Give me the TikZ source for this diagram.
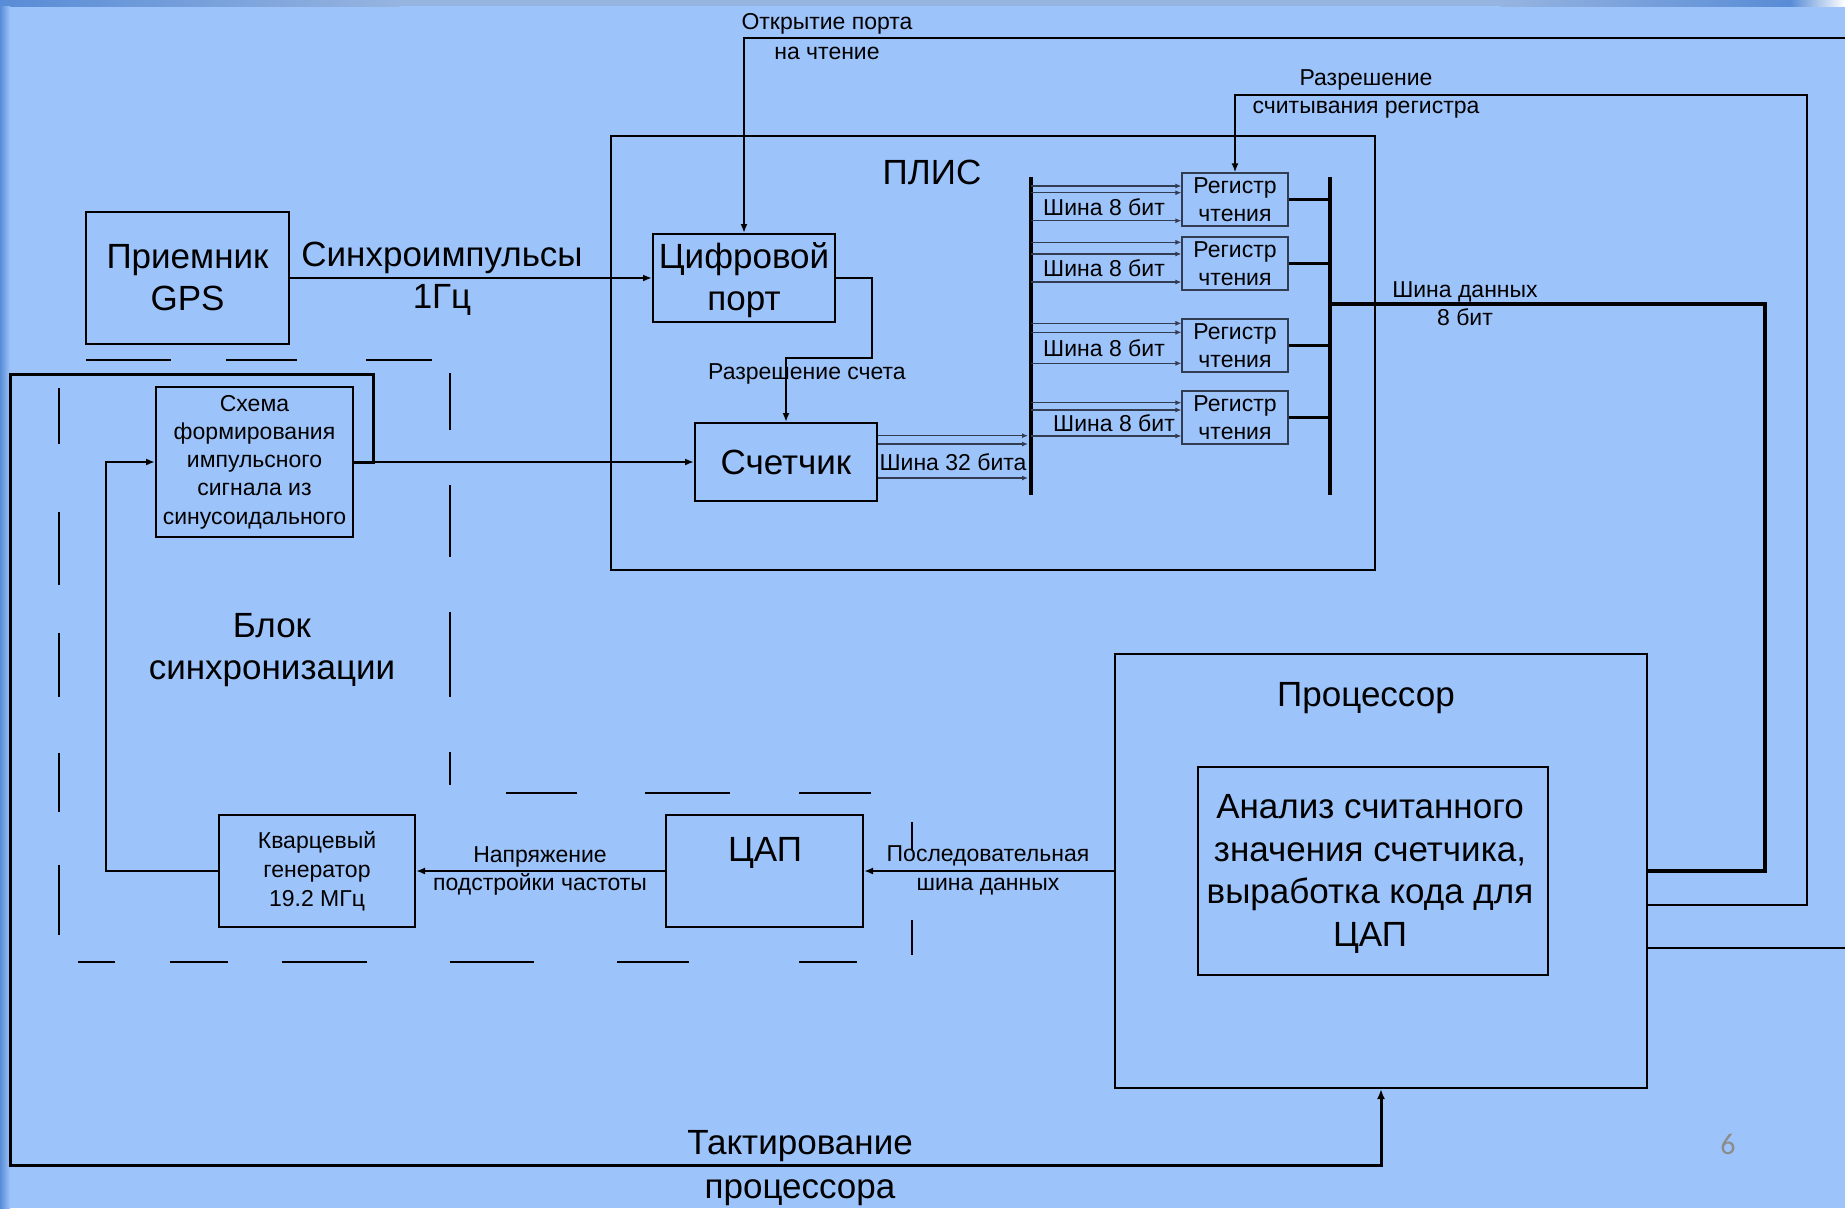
\documentclass[tikz,border=0pt]{standalone}
\usepackage{fontspec}
\setmainfont{Liberation Sans}
\newfontfamily\pagefont{Carlito}
\usetikzlibrary{arrows.meta,calc}
\definecolor{bg}{RGB}{157,195,251}
\definecolor{edgeblue}{RGB}{88,140,214}
\definecolor{topgray}{RGB}{150,180,224}
\definecolor{regline}{RGB}{50,60,80}
\definecolor{pagenum}{RGB}{140,140,140}
\begin{document}
\begin{tikzpicture}[x=1pt,y=-1pt,
  big/.style={font=\fontsize{35}{42}\selectfont},
  small/.style={font=\fontsize{23}{29}\selectfont},
  box/.style={draw,line width=2pt,inner sep=0pt,align=center},
  regbox/.style={draw=regline,line width=1.2pt,inner sep=0pt,align=center,
    minimum width=106,minimum height=53,font=\fontsize{23}{28}\selectfont},
  lbl/.style={inner sep=0pt,align=center},
  biglbl/.style={inner sep=0pt,align=center,yshift=-3pt},
  wire/.style={line width=2pt},
  thickwire/.style={line width=3pt},
  arr/.style={line width=2pt,-{Latex[length=9pt,width=7pt]}},
  thinarr/.style={line width=1.2pt,draw=regline,-{Latex[length=6pt,width=5pt]}},
  bus/.style={line width=4pt},
  dseg/.style={line width=2pt},
]
% background
\fill[bg] (0,0) rectangle (1845,1208);
\useasboundingbox (0,0) rectangle (1845,1208);
\shade[left color=edgeblue,right color=topgray] (0,0) rectangle (400,6);
\fill[topgray] (400,0) rectangle (1500,6);
\shade[left color=topgray,right color=edgeblue] (1500,0) rectangle (1790,6);
\shade[left color=edgeblue,right color=white] (1790,0) rectangle (1845,6);
\shade[left color=edgeblue,right color=bg] (0,6) rectangle (10,1208);

% dashed synchronisation block
\foreach \a/\b in {86/171,226/297,366/432} \draw[dseg] (\a,360) -- (\b,360);
\foreach \a/\b in {388/444,512/585,633/697,753/812,865/935} \draw[dseg] (59,\a) -- (59,\b);
\foreach \a/\b in {373/430,485/557,612/697,752/785} \draw[dseg] (450,\a) -- (450,\b);
\foreach \a/\b in {506/577,645/730,799/871} \draw[dseg] (\a,793) -- (\b,793);
\foreach \a/\b in {822/850,920/955} \draw[dseg] (912,\a) -- (912,\b);
\foreach \a/\b in {78/115,170/228,282/367,450/534,617/689,799/857} \draw[dseg] (\a,962) -- (\b,962);
\node[biglbl,big] (synclabel) at (272,647) {Блок\\синхронизации};

% boxes
\node[box,big,minimum width=203,minimum height=132] (gps) at (187.5,278) {Приемник\\GPS};
\node[box,minimum width=764,minimum height=434] (plis) at (993,353) {};
\node[biglbl,big] (plislbl) at (932,169) {ПЛИС};
\node[box,minimum width=182,minimum height=88] (port) at (744,278) {};
\node[biglbl,big,yshift=1pt] (portlbl) at (port.center) {Цифровой\\порт};
\node[box,big,minimum width=182,minimum height=78] (counter) at (786,462) {Счетчик};
\node[regbox] (reg1) at (1235,199.5) {Регистр\\чтения};
\node[regbox] (reg2) at (1235,263.5) {Регистр\\чтения};
\node[regbox] (reg3) at (1235,345.5) {Регистр\\чтения};
\node[regbox] (reg4) at (1235,417.5) {Регистр\\чтения};
\node[box,minimum width=197,minimum height=150,font=\fontsize{23}{28.3}\selectfont] (schema) at (254.5,462)
  {Схема\\формирования\\импульсного\\сигнала из\\синусоидального};
\node[box,minimum width=196,minimum height=112,font=\fontsize{23}{29}\selectfont] (quartz) at (317,871)
  {Кварцевый\\генератор\\19.2 МГц};
\node[box,minimum width=197,minimum height=112] (dac) at (764.5,871) {};
\node[biglbl,big] (daclbl) at (765,850) {ЦАП};
\node[box,minimum width=532,minimum height=434] (cpu) at (1381,871) {};
\node[biglbl,big] (cpulbl) at (1366,695) {Процессор};
\node[box,minimum width=350,minimum height=208] (ana) at (1373,871) {};
\node[biglbl,font=\fontsize{35}{42.5}\selectfont,xshift=-3pt] (analbl) at (ana.center)
  {Анализ считанного\\значения счетчика,\\выработка кода для\\ЦАП};

% buses inside PLIS
\coordinate (busLt) at (1031,177);
\coordinate (busLb) at (1031,495);
\coordinate (busLm) at (1031,336);
\coordinate (busRt) at (1330,177);
\coordinate (busRb) at (1330,495);
\coordinate (busRm) at (1330,304);
\draw[bus] (busLt) -- (busLb);
\draw[bus] (busRt) -- (busRb);

\foreach \r/\o in {reg1/-13.5,reg1/-6.8,reg1/21.2,reg2/-21.2,reg2/-9.5,reg2/18.5,
                   reg3/-22.2,reg3/-13.2,reg3/17.8,reg4/-14.8,reg4/-7.5,reg4/18.5}{
  \coordinate (tmp) at ($(\r.west)+(0,\o)$);
  \draw[thinarr] (busLm |- tmp) -- (tmp);
}
\foreach \r in {reg1,reg2,reg3,reg4}
  \draw[line width=3.5pt] (\r.east) -- (\r.east -| busRm);
\foreach \o in {-26.3,-18,16}{
  \coordinate (tmp) at ($(counter.east)+(0,\o)$);
  \draw[thinarr,shorten >=3pt] (tmp) -- (tmp -| busLm);
}
\node[lbl,small] (b1) at (1104,207) {Шина 8 бит};
\node[lbl,small] (b2) at (1104,268) {Шина 8 бит};
\node[lbl,small] (b3) at (1104,348) {Шина 8 бит};
\node[lbl,small] (b4) at (1114,423) {Шина 8 бит};
\node[lbl,small] (b32) at (953,462) {Шина 32 бита};

% connectors
\draw[arr] (gps.east) -- (port.west);
\node[biglbl,big] (synclbl) at (442,276) {Синхроимпульсы\\1Гц};

\coordinate (openR) at (1845,38);
\draw[arr] (openR) -| (port.north);
\node[lbl,font=\fontsize{23}{30}\selectfont] (openlbl) at (827,37) {Открытие порта\\на чтение};

\draw[arr] (port.east) -- ++(36,0) |- ($(counter.north)+(0,-64)$) -- (counter.north);
\node[lbl,small] (enlbl) at (807,374) {Разрешение счета};

% thick clock loop
\draw[thickwire,-{Latex[length=10pt,width=8pt]}] (schema.east) -- ++(19,0) |- (10,374) -- (10,1165) -| (cpu.south);
\node[biglbl,font=\fontsize{35}{44}\selectfont] (clklbl) at (800,1165) {Тактирование\\процессора};
\draw[arr] (schema.east) -- (counter.west);

\draw[arr] (quartz.west) -- ++(-112,0) |- (schema.west);
\draw[arr] (dac.west) -- (quartz.east);
\node[lbl,font=\fontsize{23}{28}\selectfont] (vlbl) at (540,871) {Напряжение\\подстройки частоты};
\draw[arr] (cpu.west) -- (dac.east);
\node[lbl,font=\fontsize{23}{29}\selectfont] (serlbl) at (988,870) {Последовательная\\шина данных};

% processor outputs on the right
\draw[bus] (cpu.east) -- ++(117,0) |- (busRm);
\node[lbl,font=\fontsize{23}{28}\selectfont] (dblbl) at (1465,304) {Шина данных\\8 бит};
\coordinate (loopTR) at (1807,95);
\draw[arr] ($(cpu.east)+(0,34)$) -| (loopTR) -| (reg1.north);
\node[lbl,font=\fontsize{23}{28}\selectfont] (rdlbl) at (1366,94) {Разрешение\\считывания регистра};
\coordinate (E3) at (1845,948);
\draw[wire] ($(cpu.east)+(0,77)$) -- (E3);

\node[lbl,font=\pagefont\fontsize{30}{30}\selectfont,text=pagenum] (page) at (1728,1144) {6};
\end{tikzpicture}
\end{document}
